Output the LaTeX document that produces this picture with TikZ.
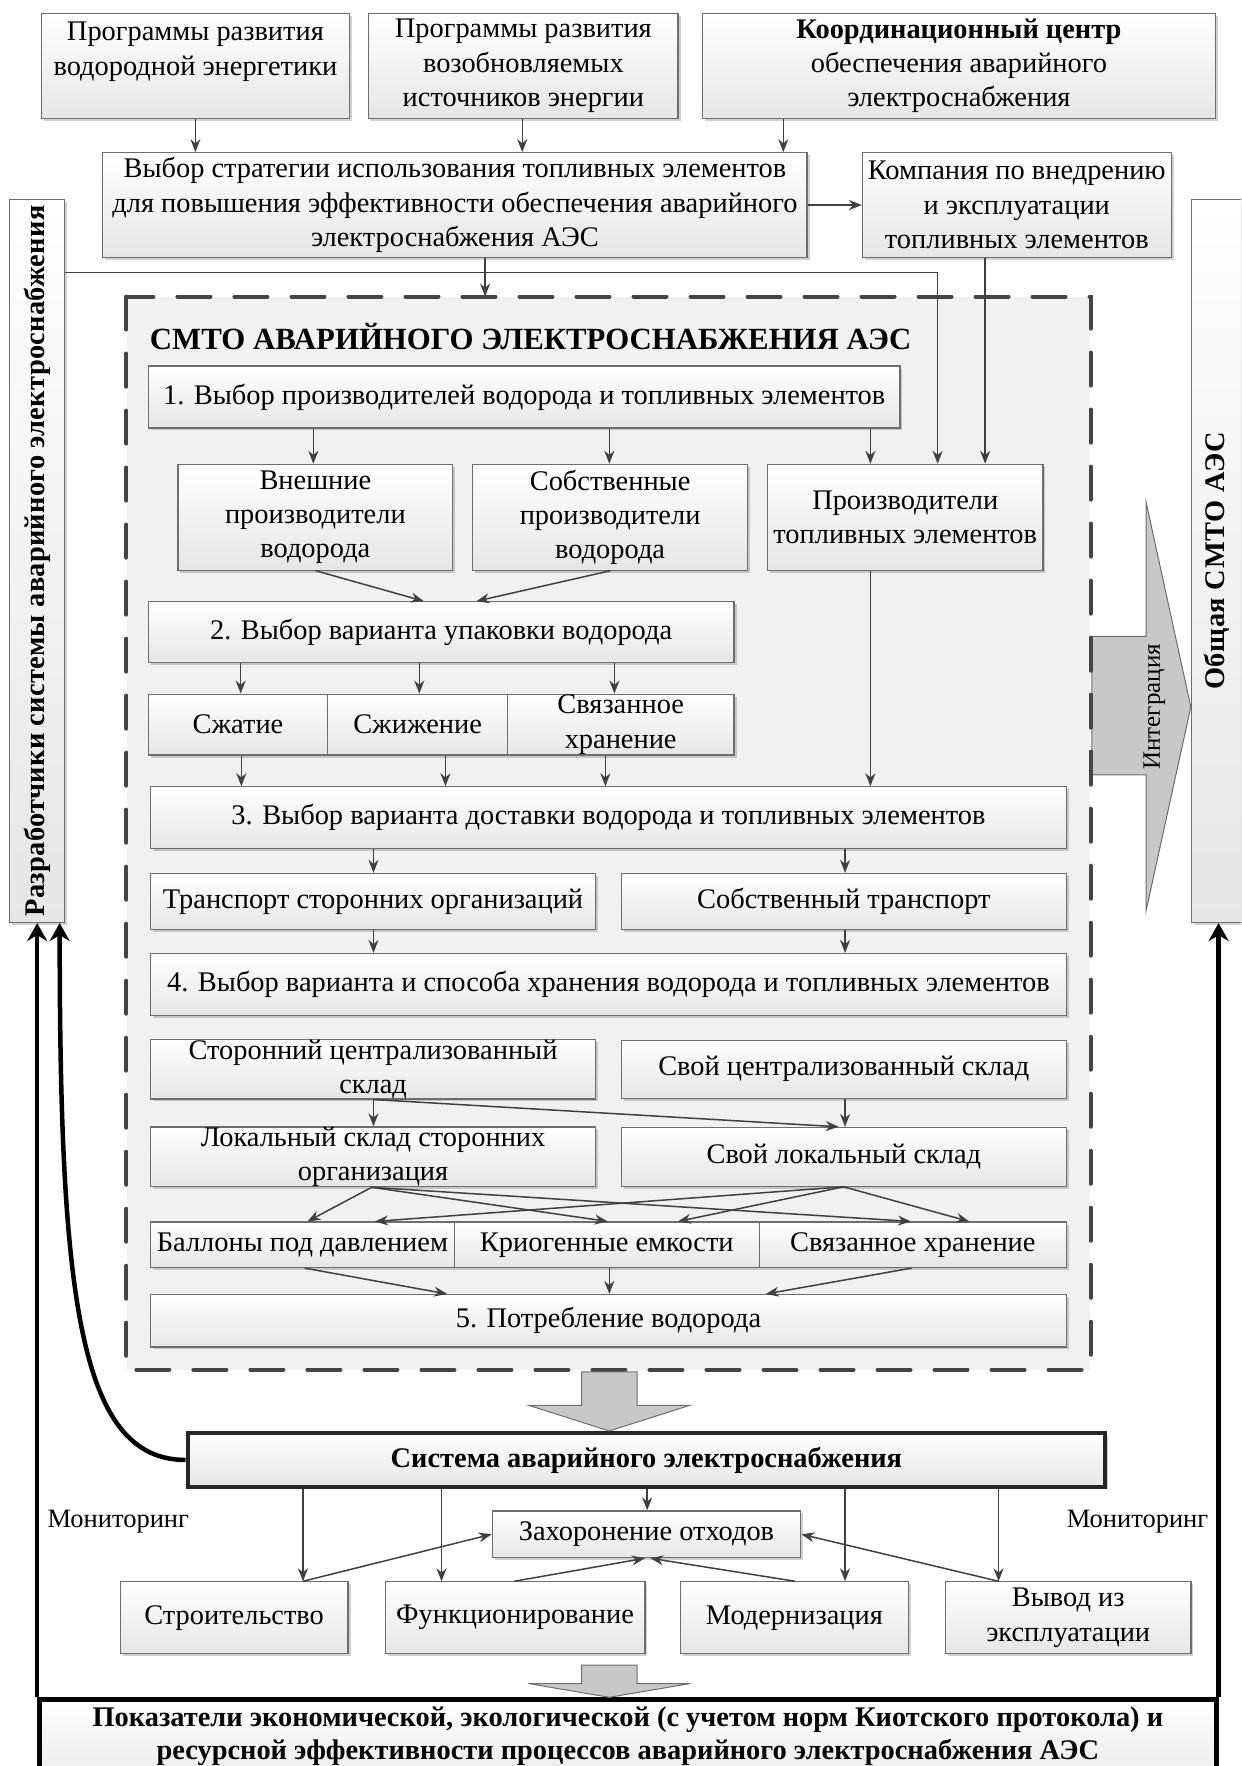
\documentclass[tikz,border=0pt]{standalone}
\usepackage{fontspec}
\setmainfont{Liberation Serif}
\usetikzlibrary{arrows.meta,shadows,calc}

\definecolor{boxline}{HTML}{6E6E6E}
\definecolor{boxgrey}{HTML}{E6E6E6}
\definecolor{lineclr}{HTML}{404040}
\definecolor{panelfill}{HTML}{F1F1F1}
\definecolor{blockfill}{HTML}{C8C8C8}
\definecolor{dashclr}{HTML}{444444}

\newcommand\boxfont{\fontsize{28.4}{34.3}\selectfont}
\newcommand\titlefont{\fontsize{30.8}{36}\bfseries\selectfont}

\tikzset{
  % rectangle given by its corners: xmin/ymin/xmax/ymax
  spanbox/.style args={#1/#2/#3/#4}{at={({(#1+#3)/2},{(#2+#4)/2})},
    minimum width={(#3-#1)*1.1261pt}, minimum height={(#4-#2)*1.1261pt}},
  box/.style={rectangle, draw=boxline, line width=1.2pt, top color=white, bottom color=boxgrey,
    drop shadow={shadow xshift=2.5pt, shadow yshift=-2.5pt, fill=black, opacity=0.18},
    inner sep=0pt, align=center, font=\boxfont},
  arr/.style={draw=lineclr, line width=1.5pt, -{Stealth[length=13pt,width=10pt]}},
  heavyarr/.style={draw=black, line width=4.5pt, -{Stealth[length=18pt,width=20pt]}},
  blockarrow/.style={draw=boxline, line width=1pt, fill=blockfill},
  plain/.style={inner sep=0pt, align=center, font=\boxfont},
}

\begin{document}
\begin{tikzpicture}[x=1.1261pt, y=-1.1261pt]
\clip (0,0) rectangle (1102,1568);

% ---------- upper level ----------
\node[box, spanbox=36.5/11.8/310.5/105] (t1) {Программы развития\\водородной энергетики\\~};
\node[box, spanbox=327.4/11.8/602/105] (t2) {Программы развития\\возобновляемых\\источников энергии};
\node[box, spanbox=623.8/11.8/1079/105] (t3) {\textbf{Координационный центр}\\обеспечения аварийного\\электроснабжения};

\node[box, spanbox=91.3/135.6/716.6/228.5] (strat) {Выбор стратегии использования топливных элементов\\для повышения эффективности обеспечения аварийного\\электроснабжения АЭС};
\node[box, spanbox=765.8/135.6/1039.8/228.5] (comp) {Компания по внедрению\\и эксплуатации\\топливных элементов};

% side blocks
\node[box, spanbox=8.4/177/57.6/819] (dev) {};
\node[plain, rotate=90, font=\fontsize{28.4}{30}\bfseries\selectfont\addfontfeatures{LetterSpace=1}] at (dev.center) {Разработчики системы аварийного электроснабжения};
\node[box, spanbox=1058/177/1102/819] (gen) {};
\node[plain, rotate=90, font=\fontsize{28.4}{30}\bfseries\selectfont\addfontfeatures{LetterSpace=2}] at (1080,498) {Общая СМТО АЭС};

% integration arrow
\coordinate (integtip) at (1057.3,627.6);
\filldraw[blockarrow] (969.5,565) -- (1017.7,565) -- (1017.7,446.4) -- (integtip)
  -- (1017.7,808) -- (1017.7,688) -- (969.5,688) -- cycle;
\node[plain, rotate=90, font=\fontsize{25}{30}\selectfont] at (1025,627.6) {Интеграция};

% ---------- logistics panel ----------
\node[rectangle, spanbox=112.4/263.5/968.1/1216, inner sep=0pt, fill=panelfill] (panel) {};
\draw[dashclr, line width=4pt, line cap=round, dash pattern=on 33pt off 24pt]
  (panel.north west) rectangle (panel.south east);
\node[anchor=west, inner sep=0pt, font=\titlefont] (ptitle) at (133,299) {СМТО АВАРИЙНОГО ЭЛЕКТРОСНАБЖЕНИЯ АЭС};

\node[box, spanbox=132/325/799/380] (s1) {1. Выбор производителей водорода и топливных элементов};
\node[box, spanbox=158/412.3/402/506.2] (ext) {Внешние\\производители\\водорода};
\node[box, spanbox=419.4/412.3/664/506.2] (own) {Собственные\\производители\\водорода};
\node[box, spanbox=681.5/412.3/926/506.2] (fcp) {Производители\\топливных элементов};

\node[box, spanbox=131.6/534.3/651.7/588.5] (s2) {2. Выбор варианта упаковки водорода};
\node[box, spanbox=131.6/616.3/291/670.4] (p1) {Сжатие};
\node[box, spanbox=291/616.3/450.5/670.4] (p2) {Сжижение};
\node[box, spanbox=450.5/616.3/651.7/670.4] (p3) {Связанное\\хранение};

\node[box, spanbox=133.5/698.6/947/753.3] (s3) {3. Выбор варианта доставки водорода и топливных элементов};
\node[box, spanbox=133.5/775.5/529/825] (tr1) {Транспорт сторонних организаций};
\node[box, spanbox=551.5/775.5/947/825] (tr2) {Собственный транспорт};

\node[box, spanbox=133.5/846.6/947/901.3] (s4) {4. Выбор варианта и способа хранения водорода и топливных элементов};
\node[box, spanbox=133.5/923.5/529/975.3] (st1) {Сторонний централизованный\\склад};
\node[box, spanbox=551.5/923.5/947/975.3] (st2) {Свой централизованный склад};
\node[box, spanbox=133.5/1001/529/1053.2] (lo1) {Локальный склад сторонних\\организация};
\node[box, spanbox=551.5/1001/947/1053.2] (lo2) {Свой локальный склад};

\node[box, spanbox=133.5/1085/403.6/1125.4] (c1) {Баллоны под давлением};
\node[box, spanbox=403.6/1085/674/1125.4] (c2) {Криогенные емкости};
\node[box, spanbox=674/1085/947/1125.4] (c3) {Связанное хранение};
\node[box, spanbox=133.5/1149.4/947/1195.9] (s5) {5. Потребление водорода};

% ---------- operation level ----------
\node[box, line width=4pt, draw=black!85, spanbox=166.5/1272.3/981.4/1320.2,
  font=\fontsize{28.4}{34}\bfseries\selectfont] (sys) {Система аварийного электроснабжения};
\node[box, spanbox=437/1341.5/711/1383] (bur) {Захоронение отходов};
\node[box, spanbox=106.8/1404.5/309/1468.2] (b1) {Строительство};
\node[box, spanbox=342/1404.5/572.6/1468.2] (b2) {Функционирование};
\node[box, spanbox=604.2/1404.5/806.5/1468.2] (b3) {Модернизация};
\node[box, spanbox=839.5/1404.5/1057.4/1468.2] (b4) {Вывод из\\эксплуатации};

\node[plain, font=\fontsize{26.5}{30}\selectfont] (mon1) at (105,1351) {Мониторинг};
\node[plain, font=\fontsize{26.5}{30}\selectfont] (mon2) at (1010,1351) {Мониторинг};

\node[box, line width=4.5pt, draw=black, drop shadow={opacity=0}, spanbox=35/1509/1080/1600] (res) {};
\node[plain, font=\fontsize{28.4}{33.7}\bfseries\selectfont] at (557.5,1541.5) {Показатели экономической, экологической (с учетом норм Киотского протокола) и\\ресурсной эффективности процессов аварийного электроснабжения АЭС};

% ---------- block arrows ----------
\filldraw[blockarrow] (516.4,1218) -- (565.6,1218) -- (565.6,1247.7) -- (612.6,1247.7)
  -- (sys.north -| 541,0) -- (469.3,1247.7) -- (516.4,1247.7) -- cycle;
\filldraw[blockarrow] (516.4,1478.5) -- (565.6,1478.5) -- (565.6,1494.8) -- (612.6,1494.8)
  -- (res.north -| 541,0) -- (469.3,1494.8) -- (516.4,1494.8) -- cycle;

% ---------- connectors ----------
\draw[arr] (t1.south -| 173.5,0) -- (strat.north -| 173.5,0);
\draw[arr] (t2.south -| 463.7,0) -- (strat.north -| 463.7,0);
\draw[arr] (t3.south -| 695.5,0) -- (strat.north -| 695.5,0);
\draw[arr, line width=2.5pt] (strat.east) -- (comp.west);
\draw[arr] (dev.east |- 0,242.1) -| (fcp.north -| 832.5,0);
\draw[arr] (comp.south -| 874.7,0) -- (fcp.north -| 874.7,0);
\draw[arr] (strat.south -| 430.7,0) -- (panel.north -| 430.7,0);

\draw[arr] (s1.south -| 278.2,0) -- (ext.north -| 278.2,0);
\draw[arr] (s1.south -| 541,0) -- (own.north -| 541,0);
\draw[arr] (s1.south -| 772.8,0) -- (fcp.north -| 772.8,0);
\draw[arr] (ext.south -| 280.3,0) -- (s2.north -| 376.3,0);
\draw[arr] (own.south -| 542,0) -- (s2.north -| 423,0);

\draw[arr] (s2.south -| 213.7,0) -- (p1.north -| 213.7,0);
\draw[arr] (s2.south -| 372.3,0) -- (p2.north -| 372.3,0);
\draw[arr] (s2.south -| 545.5,0) -- (p3.north -| 545.5,0);
\draw[arr] (p1.south -| 214.3,0) -- (s3.north -| 214.3,0);
\draw[arr] (p2.south -| 395.5,0) -- (s3.north -| 395.5,0);
\draw[arr] (p3.south -| 537.5,0) -- (s3.north -| 537.5,0);
\draw[arr] (fcp.south -| 772.8,0) -- (s3.north -| 772.8,0);

\draw[arr] (s3.south -| 331.6,0) -- (tr1.north -| 331.6,0);
\draw[arr] (s3.south -| 750.3,0) -- (tr2.north -| 750.3,0);
\draw[arr] (tr1.south -| 331.6,0) -- (s4.north -| 331.6,0);
\draw[arr] (tr2.south -| 750.3,0) -- (s4.north -| 750.3,0);

\draw[arr] (st1.south -| 331.6,0) -- (lo1.north -| 331.6,0);
\draw[arr] (st2.south -| 750.3,0) -- (lo2.north -| 750.3,0);
\draw[arr] (st1.south -| 331.6,0) -- (lo2.north -| 744.7,0);

\draw[arr] (lo1.south -| 330,0) -- (c1.north -| 273,0);
\draw[arr] (lo1.south -| 330,0) -- (c2.north -| 539.6,0);
\draw[arr] (lo1.south -| 330,0) -- (c3.north -| 808.8,0);
\draw[arr] (lo2.south -| 749,0) -- (c1.north -| 333,0);
\draw[arr] (lo2.south -| 749,0) -- (c2.north -| 602,0);
\draw[arr] (lo2.south -| 749,0) -- (c3.north -| 860.5,0);

\draw[arr] (c1.south -| 270.5,0) -- (s5.north -| 397,0);
\draw[arr] (c2.south -| 541,0) -- (s5.north -| 541,0);
\draw[arr] (c3.south -| 809.3,0) -- (s5.north -| 680,0);

\draw[arr] (sys.south -| 269,0) -- (b1.north -| 269,0);
\draw[arr] (sys.south -| 392,0) -- (b2.north -| 392,0);
\draw[arr] (sys.south -| 574.6,0) -- (bur.north -| 574.6,0);
\draw[arr] (sys.south -| 750.3,0) -- (b3.north -| 750.3,0);
\draw[arr] (sys.south -| 886.6,0) -- (b4.north -| 886.6,0);

\draw[arr] (b1.north -| 269,0) -- (bur.west);
\draw[arr] (b2.north -| 456.6,0) -- (bur.south -| 572.6,0);
\draw[arr] (b3.north -| 706,0) -- (bur.south -| 577.5,0);
\draw[arr] (b4.north -| 886.6,0) -- (bur.east);

% feedback to the developers and to the general system
\draw[heavyarr] (res.north west) -- (res.north west |- dev.south);
\draw[heavyarr] (sys.west) .. controls (70,1296.2) and (53,1150) .. (dev.south -| 53,0);
\draw[heavyarr] (res.north east) -- (res.north east |- gen.south);
\end{tikzpicture}
\end{document}
